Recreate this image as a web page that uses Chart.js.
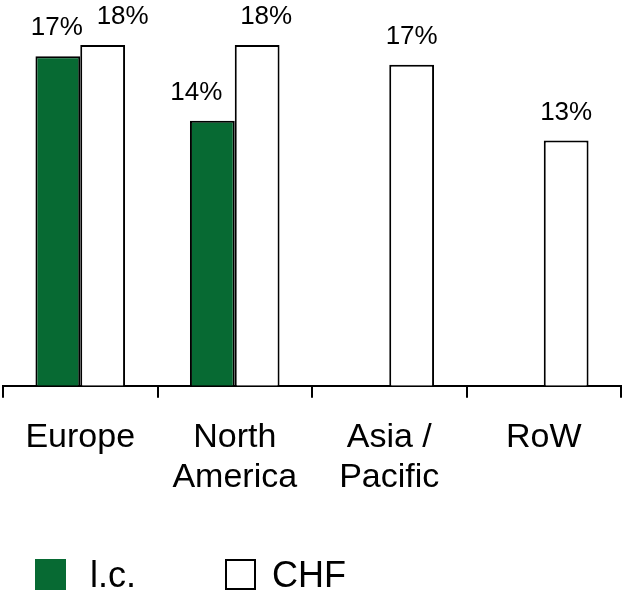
<!DOCTYPE html>
<html>
<head>
<meta charset="utf-8">
<script src="https://cdn.jsdelivr.net/npm/chart.js@4.4.1/dist/chart.umd.min.js"></script>
<style>
    html, body { margin: 0; padding: 0; background: #fff; }
    #wrap { position: relative; width: 623px; height: 594px; }
    #legend { position: absolute; left: 35px; top: 559px; display: flex; align-items: center; height: 31px;
              font-family: "Liberation Sans", Arial, sans-serif; font-size: 36px; color: #000; }
    .item { display: flex; align-items: center; }
    .swatch { width: 31px; height: 31px; box-sizing: border-box; }
</style>
</head>
<body>
<div id="wrap">
    <canvas id="chart" width="623" height="594"></canvas>
    <div id="legend"></div>
</div>
<script>
const categories = [['Europe'], ['North', 'America'], ['Asia /', 'Pacific'], ['RoW']];
const seriesNames = ['l.c.', 'CHF'];
const lcValues = [17.4, 14.0, null, null];
const chfValues = [18.0, 18.0, 16.95, 12.95];
const yMax = 20;

const FONT = '"Liberation Sans", Arial, sans-serif';

// value labels above each bar, rounded like the original
const valueLabels = {
    id: 'valueLabels',
    afterDatasetsDraw(chart, args, opts) {
        const ctx = chart.ctx;
        ctx.save();
        ctx.font = '26px ' + FONT;
        ctx.fillStyle = '#000';
        ctx.textAlign = 'center';
        ctx.textBaseline = 'alphabetic';
        chart.data.datasets.forEach((ds, i) => {
            chart.getDatasetMeta(i).data.forEach((bar, j) => {
                const v = ds.data[j];
                if (v === null || v === undefined) return;
                const dx = (opts.nudge[i] && opts.nudge[i][j]) || 0;
                ctx.fillText(Math.round(v) + '%', bar.x + dx, bar.y - 21);
            });
        });
        ctx.restore();
    }
};

const chart = new Chart(document.getElementById('chart').getContext('2d'), {
    type: 'bar',
    data: {
        labels: categories,
        datasets: [
            { label: seriesNames[0], data: lcValues, backgroundColor: '#076a33', borderColor: '#000', borderWidth: 2 },
            { label: seriesNames[1], data: chfValues, backgroundColor: '#fff', borderColor: '#000', borderWidth: 2 }
        ]
    },
    options: {
        responsive: false,
        animation: false,
        layout: { padding: { top: 7, left: 3, right: 2, bottom: 76 } },
        datasets: { bar: { barPercentage: 1, categoryPercentage: 0.58 } },
        plugins: {
            legend: { display: false },
            tooltip: { enabled: false },
            // labels moved sideways so neighbours do not collide
            valueLabels: { nudge: [[-1, -16, 0, 0], [20, 9, 0, 0]] }
        },
        scales: {
            y: { display: false, min: 0, max: yMax },
            x: {
                border: { display: true, color: '#000', width: 2 },
                grid: { color: '#000', lineWidth: 2, drawOnChartArea: false, tickLength: 12, offset: true },
                ticks: { color: '#000', padding: 20, font: { family: FONT, size: 34, lineHeight: 1.18 } }
            }
        }
    },
    plugins: [valueLabels]
});

// legend built from the chart's own datasets
const legendEl = document.getElementById('legend');
chart.data.datasets.forEach((ds, i) => {
    const item = document.createElement('div');
    item.className = 'item';
    if (i > 0) item.style.marginLeft = '89px';
    const sw = document.createElement('span');
    sw.className = 'swatch';
    sw.style.background = ds.backgroundColor;
    sw.style.marginRight = i > 0 ? '16px' : '24px';
    if (i > 0) sw.style.border = '2px solid ' + ds.borderColor;
    item.appendChild(sw);
    item.appendChild(document.createTextNode(ds.label));
    legendEl.appendChild(item);
});
</script>
</body>
</html>
